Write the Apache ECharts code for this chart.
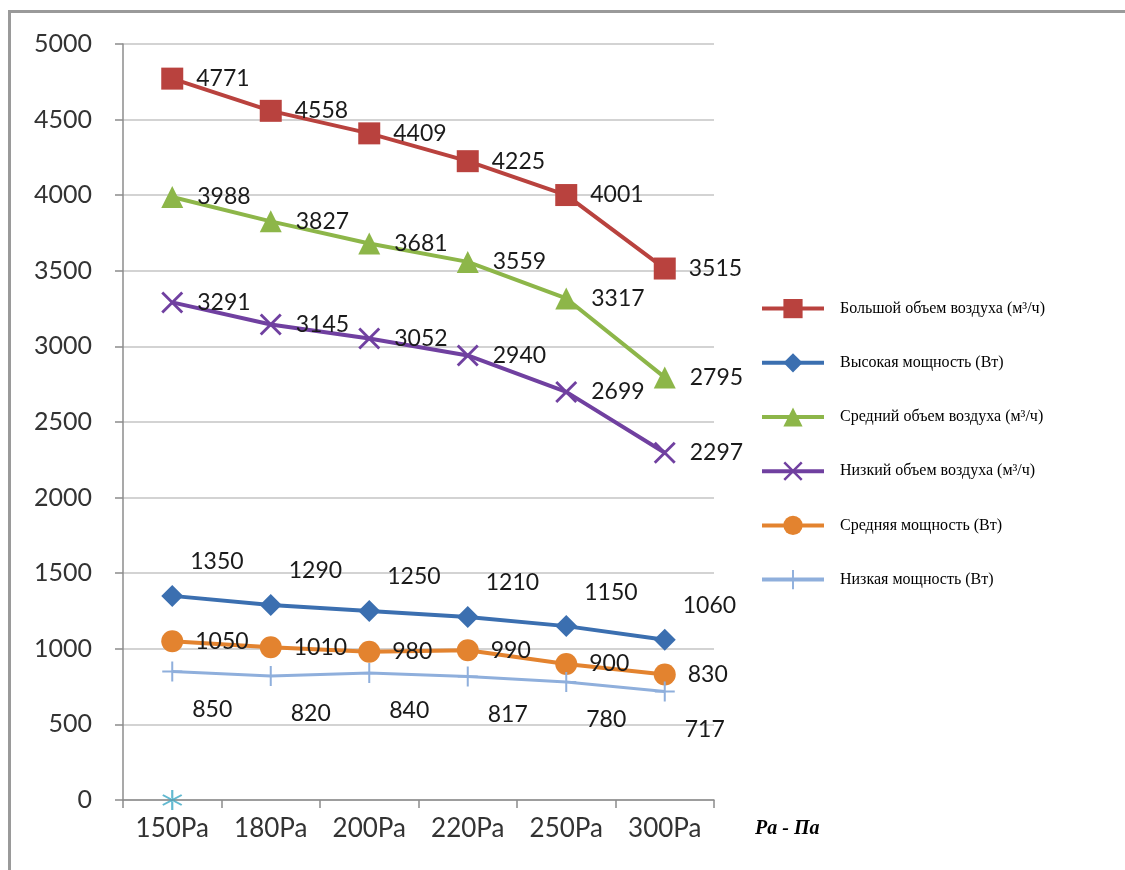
<!DOCTYPE html>
<html>
<head>
<meta charset="utf-8">
<script src="https://cdn.jsdelivr.net/npm/echarts@6/dist/echarts.min.js"></script>
<style>
  html, body { margin: 0; padding: 0; background: #fff; }
  #chart { width: 1125px; height: 870px; }
</style>
</head>
<body>
<div id="chart"></div>
<script>
  // данные графика
  const categories = ['150Pa', '180Pa', '200Pa', '220Pa', '250Pa', '300Pa']
  const yTicks = [0, 500, 1000, 1500, 2000, 2500, 3000, 3500, 4000, 4500, 5000]

  const bigAir = [4771, 4558, 4409, 4225, 4001, 3515]
  const highPower = [1350, 1290, 1250, 1210, 1150, 1060]
  const midAir = [3988, 3827, 3681, 3559, 3317, 2795]
  const lowAir = [3291, 3145, 3052, 2940, 2699, 2297]
  const midPower = [1050, 1010, 980, 990, 900, 830]
  const lowPower = [850, 820, 840, 817, 780, 717]
  const strayPoint = [0]

  const names = [
    'Большой объем воздуха (м³/ч)',
    'Высокая мощность (Вт)',
    'Средний объем воздуха (м³/ч)',
    'Низкий объем воздуха (м³/ч)',
    'Средняя мощность (Вт)',
    'Низкая мощность (Вт)'
  ]

  const crossPath = 'path://M6.36,7.78L7.78,6.36L-6.36,-7.78L-7.78,-6.36Z M7.78,-6.36L6.36,-7.78L-7.78,6.36L-6.36,7.78Z'
  const plusPath = 'path://M-1,-10L1,-10L1,10L-1,10Z M-10,-1L10,-1L10,1L-10,1Z'
  const starPath = 'path://M-1,-10L1,-10L1,10L-1,10Z M8.16,5.87L9.16,4.13L-8.16,-5.87L-9.16,-4.13Z M-8.16,5.87L-9.16,4.13L8.16,-5.87L9.16,-4.13Z'

  const labelFont = { fontFamily: 'Lato', fontSize: 23, color: '#1a1a1a' }

  function mkLine(name, data, color, symbol, size, width, label) {
    return {
      name: name,
      type: 'line',
      data: data,
      symbol: symbol,
      symbolSize: size,
      showAllSymbol: true,
      lineStyle: { color: color, width: width },
      itemStyle: { color: color },
      label: Object.assign({ show: true, position: 'right' }, labelFont, label),
      z: 3
    }
  }

  const chart = echarts.init(document.getElementById('chart'))

  const option = {
    backgroundColor: '#fff',
    animation: false,
    grid: { left: 123, right: 411, top: 44, bottom: 70 },
    graphic: [
      {
        type: 'polyline',
        shape: { points: [[9.5, 870], [9.5, 11.5], [1125, 11.5]] },
        style: { stroke: '#9a9a9a', lineWidth: 3, fill: null }
      },
      {
        type: 'text',
        left: 755,
        top: 819,
        style: {
          text: 'Pa - Па',
          font: 'italic bold 20px "Liberation Serif", "Times New Roman", serif',
          fill: '#000'
        }
      }
    ],
    legend: {
      orient: 'vertical',
      left: 755,
      top: 294,
      itemWidth: 62,
      itemHeight: 24,
      itemGap: 35,
      data: names,
      lineStyle: { width: 4 },
      textStyle: {
        fontFamily: '"Liberation Serif", "Times New Roman", serif',
        fontSize: 16,
        color: '#000',
        padding: [0, 0, 0, 11]
      }
    },
    xAxis: {
      type: 'category',
      data: categories,
      boundaryGap: true,
      axisLine: { lineStyle: { color: '#8c8c8c', width: 1.5 } },
      axisTick: { show: true, length: 8, lineStyle: { color: '#8c8c8c', width: 1.5 } },
      axisLabel: { fontFamily: 'Lato', fontSize: 26, color: '#333', margin: 16 }
    },
    yAxis: {
      type: 'value',
      min: yTicks[0],
      max: yTicks[yTicks.length - 1],
      interval: yTicks[1] - yTicks[0],
      axisLine: { show: true, lineStyle: { color: '#8c8c8c', width: 1.5 } },
      axisTick: { show: true, length: 8, lineStyle: { color: '#8c8c8c', width: 1.5 } },
      splitLine: { lineStyle: { color: '#c4c4c4', width: 1.5 } },
      axisLabel: {
        fontFamily: 'Lato', fontSize: 25, color: '#333', margin: 31,
        formatter: (v) => String(v)
      }
    },
    series: [
      mkLine(names[0], bigAir, '#b9423e', 'rect', 22, 4, { distance: 13 }),
      mkLine(names[1], highPower, '#3b6fb0', 'diamond', 22, 4, { distance: 7, offset: [0, -34] }),
      mkLine(names[2], midAir, '#8db649', 'triangle', 22, 4, { distance: 14 }),
      mkLine(names[3], lowAir, '#7040a0', crossPath, 22, 4, { distance: 14 }),
      mkLine(names[4], midPower, '#e3832f', 'circle', 22, 4, { distance: 12 }),
      mkLine(names[5], lowPower, '#8fafdc', plusPath, 20, 3, { distance: 10, offset: [0, 38] }),
      {
        name: 'stray',
        type: 'scatter',
        data: strayPoint,
        symbol: starPath,
        symbolSize: 20,
        itemStyle: { color: '#3ba7c4' },
        z: 4
      }
    ]
  }

  chart.setOption(option)
</script>
</body>
</html>
